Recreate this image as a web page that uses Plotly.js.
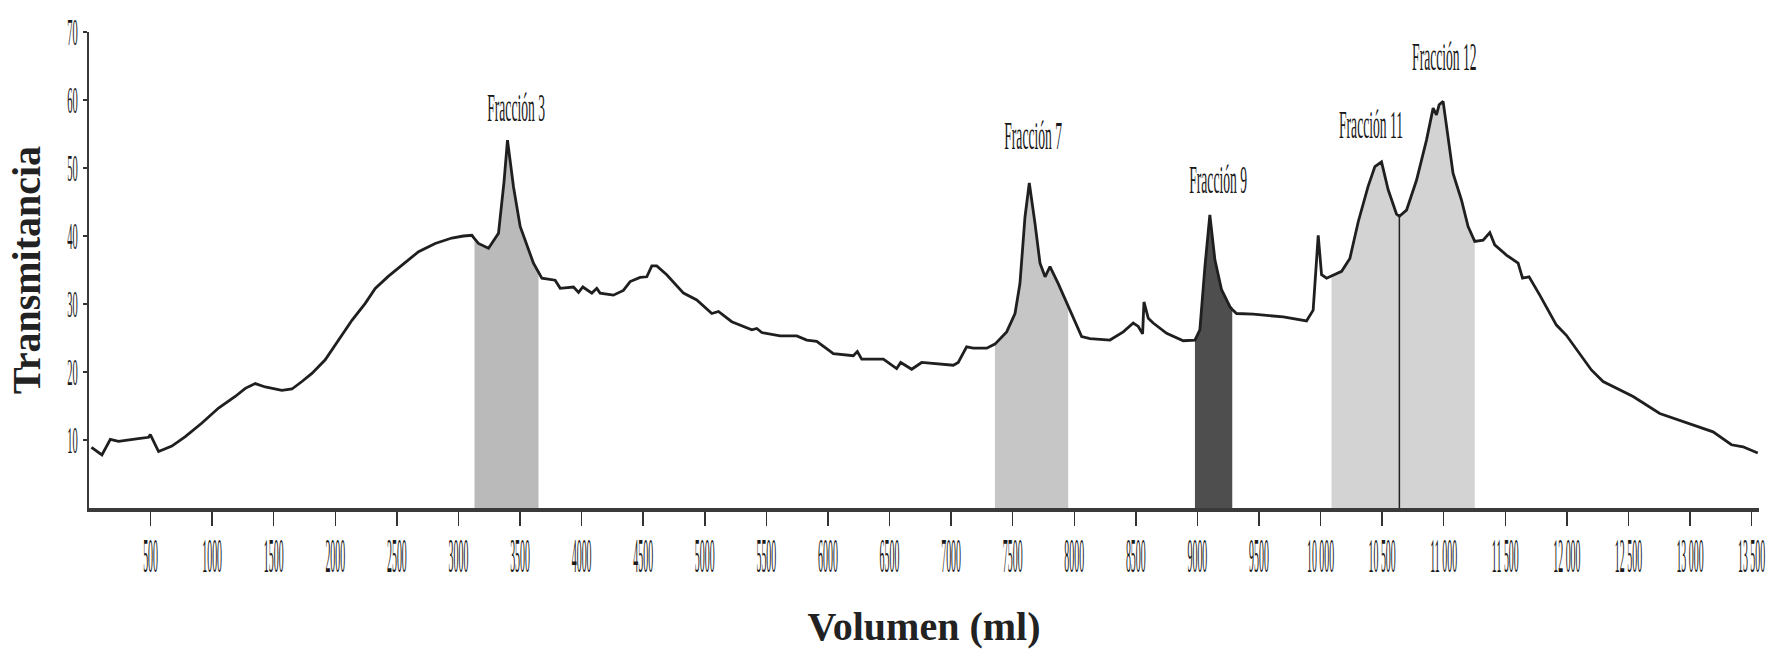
<!DOCTYPE html>
<html>
<head>
<meta charset="utf-8">
<script src="https://cdn.plot.ly/plotly-3.0.1.min.js"></script>
<style>
  html, body { margin: 0; padding: 0; background: #ffffff; }
  #chart { width: 1777px; height: 656px; }
</style>
</head>
<body>
<div id="chart"></div>
<script>
// ---- Data ----
const volumen = [
  20, 105, 173, 240, 400, 484, 498, 565, 673, 782, 917, 1052, 1187, 1269, 1350, 1431, 1566,
  1648, 1729, 1810, 1918, 2026, 2135, 2243, 2324, 2432, 2540, 2676, 2811, 2946, 3040, 3109,
  3130, 3162, 3244, 3325, 3370, 3398, 3447, 3501,
  3609, 3650, 3677, 3785, 3826, 3934, 3975, 4010, 4083, 4123, 4150, 4258, 4339, 4394,
  4475, 4529, 4570, 4610, 4691, 4827, 4935, 5057, 5111, 5219, 5382, 5422, 5463, 5611,
  5747, 5828, 5909, 6044, 6206, 6239, 6274, 6450, 6558, 6591, 6680, 6761, 7018, 7058,
  7126, 7180, 7289, 7356, 7451, 7519, 7559, 7600, 7635, 7681, 7722, 7763, 7803, 7870,
  7951, 8060, 8128, 8290, 8398, 8479, 8520, 8555, 8566, 8601, 8641, 8750, 8885, 8980,
  9020, 9061, 9101, 9142, 9196, 9264, 9283, 9318, 9453, 9697, 9886, 9940, 9981, 10008,
  10049, 10089, 10171, 10238, 10306, 10386, 10441, 10495, 10549, 10617, 10640, 10698,
  10779, 10860, 10914, 10941, 10963, 10995, 11036, 11076, 11144, 11198, 11252, 11320,
  11374, 11414, 11509, 11604, 11640, 11693, 11780, 11915, 11996, 12104, 12199, 12294,
  12538, 12754, 12944, 13187, 13336, 13430, 13550
];
const transmitancia = [
  8.9, 7.8, 10.1, 9.8, 10.2, 10.4, 10.8, 8.3, 9.1, 10.5, 12.5, 14.7, 16.4, 17.6, 18.3, 17.8, 17.3,
  17.5, 18.6, 19.8, 21.8, 24.7, 27.6, 30.1, 32.3, 34.1, 35.7, 37.7, 38.9, 39.7, 40.0, 40.1,
  39.6, 38.9, 38.2, 40.4, 48.0, 54.1, 47.2, 41.4,
  36.0, 34.7, 33.8, 33.5, 32.3, 32.5, 31.7, 32.5, 31.6, 32.3, 31.6, 31.3, 32.0, 33.3,
  33.9, 34.0, 35.6, 35.6, 34.3, 31.6, 30.6, 28.6, 28.9, 27.4, 26.2, 26.4, 25.8, 25.3,
  25.3, 24.7, 24.5, 22.7, 22.4, 23.0, 21.9, 21.9, 20.5, 21.4, 20.4, 21.4, 21.0, 21.4,
  23.7, 23.5, 23.5, 24.1, 25.9, 28.6, 33.0, 42.8, 47.8, 41.9, 36.0, 34.0, 35.5, 33.0,
  29.6, 25.2, 24.9, 24.7, 25.9, 27.2, 26.7, 25.6, 30.3, 27.9, 27.2, 25.7, 24.6, 24.7,
  26.2, 35.5, 43.1, 36.5, 32.1, 29.6, 29.2, 28.6, 28.5, 28.1, 27.5, 29.1, 40.1, 34.3,
  33.8, 34.1, 34.8, 36.7, 42.1, 47.3, 50.2, 50.9, 46.8, 43.2, 42.9, 43.8,
  48.2, 54.1, 58.8, 57.8, 59.3, 59.8, 54.6, 49.2, 45.3, 41.4, 39.2, 39.4,
  40.5, 38.7, 37.2, 36.0, 33.8, 34.0, 31.3, 26.9, 25.4, 22.7, 20.3, 18.6,
  16.4, 13.9, 12.7, 11.2, 9.3, 9.0, 8.1
];
const fraccionNombres = ["Fracción 3", "Fracción 7", "Fracción 9", "Fracción 11", "Fracción 12"];
const fraccionInicio  = [3130, 7356, 8980, 10089, 10640];
const fraccionFin     = [3650, 7951, 9283, 10640, 11252];
const tickValores = [500, 1000, 1500, 2000, 2500, 3000, 3500, 4000, 4500, 5000, 5500, 6000, 6500,
  7000, 7500, 8000, 8500, 9000, 9500, 10000, 10500, 11000, 11500, 12000, 12500, 13000, 13500];
const tickTextos = ["500", "1000", "1500", "2000", "2500", "3000", "3500", "4000", "4500", "5000",
  "5500", "6000", "6500", "7000", "7500", "8000", "8500", "9000", "9500", "10 000", "10 500",
  "11 000", "11 500", "12 000", "12 500", "13 000", "13 500"];
const yTickValores = [10, 20, 30, 40, 50, 60, 70];

// ---- Styles (kept separate from data) ----
const fillColors = ["#bababa", "#c6c6c6", "#4e4e4e", "#d3d3d3", "#d3d3d3"];
const labelPos = [
  {x: 3469, y: 58.8}, {x: 7673, y: 54.7}, {x: 9168, y: 48.1}, {x: 10410, y: 56.3}, {x: 11010, y: 66.3}
];

const traces = [];
fraccionNombres.forEach((name, i) => {
  const xs = [], ys = [];
  volumen.forEach((v, k) => {
    if (v >= fraccionInicio[i] && v <= fraccionFin[i]) { xs.push(v); ys.push(transmitancia[k]); }
  });
  traces.push({
    type: 'scatter', mode: 'lines', x: xs, y: ys, fill: 'tozeroy',
    fillcolor: fillColors[i], line: {width: 0, color: fillColors[i]},
    name: name, showlegend: false, hoverinfo: 'skip'
  });
});

// divider between fractions 11 and 12
const divIdx = volumen.indexOf(fraccionFin[3]);
traces.push({
  type: 'scatter', mode: 'lines', x: [volumen[divIdx], volumen[divIdx]], y: [0, transmitancia[divIdx]],
  line: {color: '#222', width: 1.5}, showlegend: false, hoverinfo: 'skip'
});

traces.push({
  type: 'scatter', mode: 'lines', x: volumen, y: transmitancia,
  line: {color: '#1f1f1f', width: 2.8}, name: 'Transmitancia', showlegend: false
});

const annotations = fraccionNombres.map((name, i) => ({
  x: labelPos[i].x, y: labelPos[i].y, xref: 'x', yref: 'y', text: name, showarrow: false,
  font: {family: 'Liberation Serif', size: 17, color: '#1a1a1a'}
}));

const layout = {
  width: 1777, height: 656,
  margin: {l: 89, r: 18, t: 32, b: 148},
  paper_bgcolor: '#ffffff', plot_bgcolor: '#ffffff',
  showlegend: false,
  xaxis: {
    range: [0, 13560], tickmode: 'array', tickvals: tickValores, ticktext: tickTextos,
    ticks: 'outside', ticklen: 14, tickwidth: 1.5, tickcolor: '#333',
    ticklabelstandoff: 16,
    showline: true, linewidth: 4, linecolor: '#3a3a3a', showgrid: false, zeroline: false,
    tickfont: {family: 'Liberation Serif', size: 16, color: '#1a1a1a'},
    automargin: false,
    title: {text: '<b>Volumen (ml)</b>', standoff: 50,
            font: {family: 'Liberation Serif', size: 40, color: '#222'}}
  },
  yaxis: {
    range: [0, 70], tickmode: 'array', tickvals: yTickValores,
    ticks: 'outside', ticklen: 4, tickwidth: 1.5, tickcolor: '#333',
    showline: true, linewidth: 2, linecolor: '#3a3a3a', showgrid: false, zeroline: false,
    tickfont: {family: 'Liberation Serif', size: 15, color: '#1a1a1a'},
    automargin: false,
    title: {text: '<b>Transmitancia</b>', standoff: 12,
            font: {family: 'Liberation Serif', size: 40, color: '#222'}}
  },
  annotations: annotations
};

// stretch text vertically (condensed, tall lettering as in the scanned figure)
function stretch(sel, sx, sy) {
  document.querySelectorAll(sel).forEach(el => {
    const bb = el.getBBox();
    const cx = bb.x + bb.width / 2, cy = bb.y + bb.height / 2;
    const orig = el.getAttribute('transform') || '';
    el.setAttribute('transform',
      orig + ` translate(${cx},${cy}) scale(${sx},${sy}) translate(${-cx},${-cy})`);
  });
}

Plotly.newPlot('chart', traces, layout, {displayModeBar: false, staticPlot: true}).then(() => {
  stretch('.xtick text', 0.62, 3.0);
  stretch('.ytick text', 0.7, 2.6);
  stretch('.annotation-text', 0.8, 2.3);
});
</script>
</body>
</html>
